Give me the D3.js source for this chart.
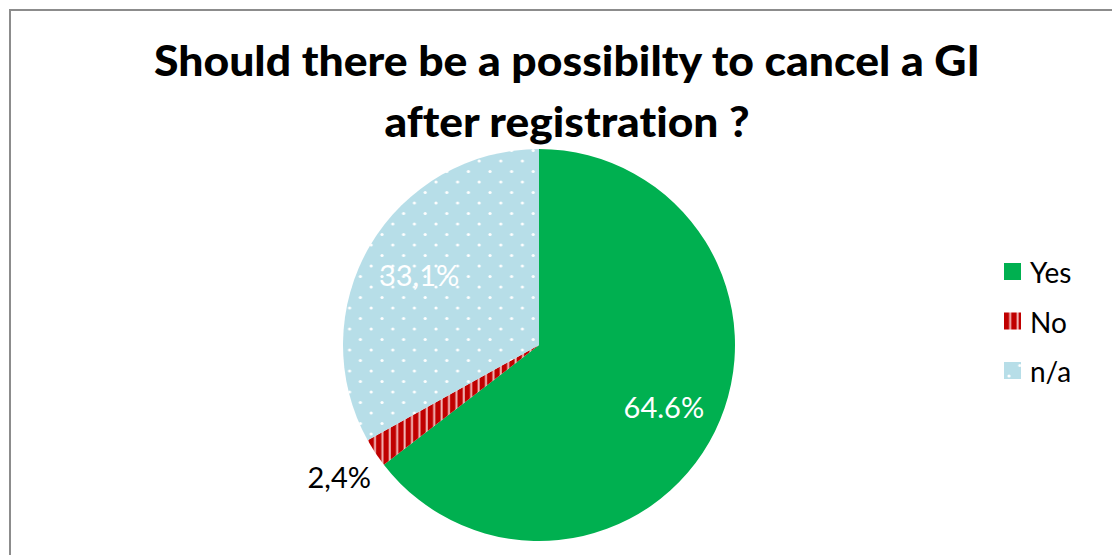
<!DOCTYPE html>
<html>
<head>
<meta charset="utf-8">
<script src="https://cdn.jsdelivr.net/npm/d3@7"></script>
<style>
  html, body { margin: 0; padding: 0; background: #fff; }
  svg { display: block; }
  text { font-variant-ligatures: none; }
</style>
</head>
<body>
<svg id="chart" width="1112" height="555"></svg>
<script>
// Survey answers
const categories = ["Yes", "No", "n/a"];
const values = [64.6, 2.4, 33.1];
const valueLabels = ["64.6%", "2,4%", "33,1%"];
const titleLines = ["Should there be a possibilty to cancel a GI", "after registration ?"];

const svg = d3.select("#chart");
const W = 1112, H = 555;
const FONT = "Lato, 'Open Sans', 'DejaVu Sans', sans-serif";

// Fill patterns
const defs = svg.append("defs");

const dots = defs.append("pattern")
  .attr("id", "pat-na").attr("patternUnits", "userSpaceOnUse")
  .attr("width", 21.6).attr("height", 21);
dots.append("rect").attr("width", 21.6).attr("height", 21).attr("fill", "#B7DEE8");
dots.append("circle").attr("cx", 5).attr("cy", 5).attr("r", 1.6).attr("fill", "#fff");
dots.append("circle").attr("cx", 15.8).attr("cy", 15.5).attr("r", 1.6).attr("fill", "#fff");

const stripes = defs.append("pattern")
  .attr("id", "pat-no").attr("patternUnits", "userSpaceOnUse")
  .attr("width", 7.4).attr("height", 8);
stripes.append("rect").attr("width", 7.4).attr("height", 8).attr("fill", "#C00000");
stripes.append("rect").attr("x", 5.2).attr("width", 2).attr("height", 8).attr("fill", "#F2B8B8");

const fills = d3.scaleOrdinal()
  .domain(categories)
  .range(["#00B050", "url(#pat-no)", "url(#pat-na)"]);
const labelColors = d3.scaleOrdinal()
  .domain(categories)
  .range(["#ffffff", "#000000", "#ffffff"]);

// Frame
svg.append("rect")
  .attr("x", 10).attr("y", 10)
  .attr("width", W + 20).attr("height", H + 20)
  .attr("fill", "#fff").attr("stroke", "#8c8c8c").attr("stroke-width", 2);

// Title
const titleW = [826, 365];
svg.append("g").selectAll("text")
  .data(titleLines)
  .join("text")
  .attr("x", 567)
  .attr("y", (d, i) => 76 + i * 61)
  .attr("text-anchor", "middle")
  .attr("font-family", FONT)
  .attr("font-weight", 900)
  .attr("font-size", 42)
  .attr("textLength", (d, i) => titleW[i])
  .attr("lengthAdjust", "spacingAndGlyphs")
  .attr("fill", "#000")
  .text(d => d);

// Pie
const cx = 539, cy = 345, R = 196;
const data = categories.map((c, i) => ({ cat: c, value: values[i], label: valueLabels[i] }));
const pie = d3.pie().value(d => d.value).sort(null);
const arcs = pie(data);
const arc = d3.arc().innerRadius(0).outerRadius(R);
const inLabel = d3.arc().innerRadius(R * 0.71).outerRadius(R * 0.71);
const outLabel = d3.arc().innerRadius(R * 1.22).outerRadius(R * 1.22);

const g = svg.append("g").attr("transform", `translate(${cx},${cy})`);
g.selectAll("path")
  .data(arcs)
  .join("path")
  .attr("d", arc)
  .attr("fill", d => fills(d.data.cat));

g.selectAll("text.val")
  .data(arcs)
  .join("text")
  .attr("class", "val")
  .attr("transform", d => {
    const p = (d.data.value < 5 ? outLabel : inLabel).centroid(d);
    return `translate(${p[0]},${p[1]})`;
  })
  .attr("text-anchor", "middle")
  .attr("dominant-baseline", "central")
  .attr("font-family", FONT)
  .attr("font-size", 29)
  .attr("fill", d => labelColors(d.data.cat))
  .text(d => d.data.label);

// Legend
const legendY = d3.scalePoint().domain(categories).range([272, 371]);
const lg = svg.append("g").selectAll("g")
  .data(categories)
  .join("g")
  .attr("transform", d => `translate(1004,${legendY(d)})`);
lg.append("rect")
  .attr("x", 0).attr("y", -9)
  .attr("width", 17).attr("height", 17)
  .attr("fill", d => fills(d));
lg.append("text")
  .attr("x", 26).attr("y", 0)
  .attr("dominant-baseline", "central")
  .attr("font-family", FONT)
  .attr("font-size", 28)
  .attr("fill", "#000")
  .text(d => d);
</script>
</body>
</html>
